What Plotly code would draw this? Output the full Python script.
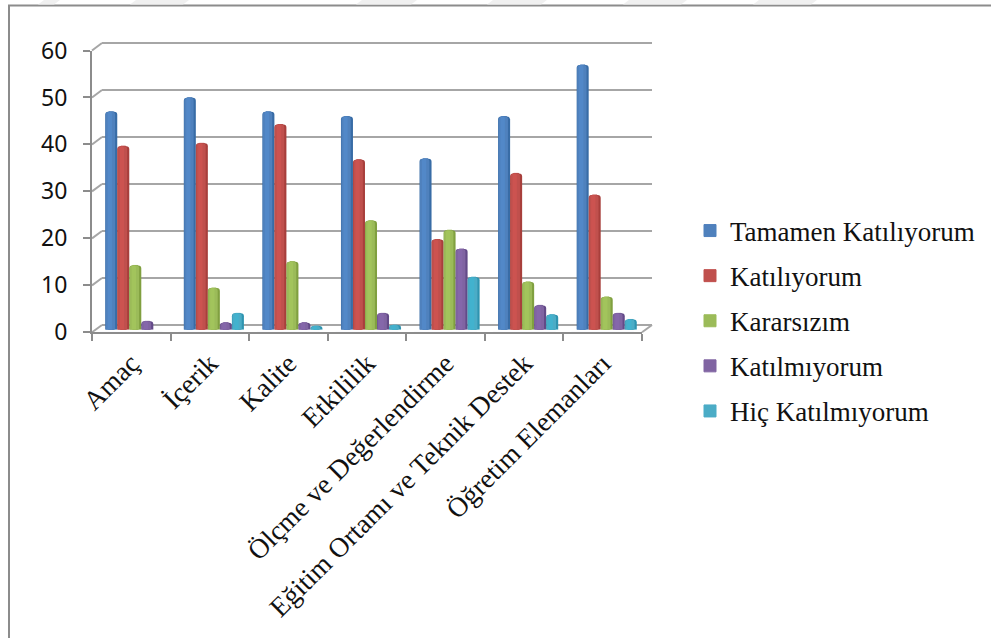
import plotly.graph_objects as go

W, H = 991, 638
categories = ["Amaç", "İçerik", "Kalite", "Etkililik", "Ölçme ve Değerlendirme",
              "Eğitim Ortamı ve Teknik Destek", "Öğretim Elemanları"]
series_names = ["Tamamen Katılıyorum", "Katılıyorum", "Kararsızım", "Katılmıyorum", "Hiç Katılmıyorum"]
tamamen = [46.4, 49.4, 46.4, 45.4, 36.4, 45.4, 56.4]
katiliyorum = [39.1, 39.7, 43.7, 36.2, 19.2, 33.3, 28.7]
kararsizim = [13.7, 8.9, 14.5, 23.2, 21.2, 10.2, 7]
katilmiyorum = [1.8, 1.5, 1.5, 3.5, 17.2, 5.2, 3.5]
hic = [None, 3.5, 0.8, 1, 11.2, 3.2, 2.2]
series_values = [tamamen, katiliyorum, kararsizim, katilmiyorum, hic]
colors = ["#4F81BD", "#C0504D", "#9BBB59", "#8064A2", "#4BACC6"]
darks = ["#386CA6", "#A83F3C", "#80A040", "#634A88", "#2E94B0"]
lights = ["#5288C8", "#CC5350", "#A2C45C", "#8567AA", "#42B2CE"]
y_ticks = [0, 10, 20, 30, 40, 50, 60]

GRID = "#A6A6A6"
AXIS = "#8C8C8C"

def px(x): return x / W
def py(y): return 1 - y / H

fig = go.Figure()

# invisible trace that makes the front axes draw
fig.add_trace(go.Bar(x=categories, y=[0] * len(categories), xaxis="x", yaxis="y", showlegend=False,
                     hoverinfo="skip", marker=dict(color="rgba(0,0,0,0)")))
# back wall gridlines
fig.add_trace(go.Scatter(x=[None], y=[None], xaxis="x2", yaxis="y2", showlegend=False))

slot = 0.153
for i, (name, vals) in enumerate(zip(series_names, series_values)):
    off = (i - 2.5) * slot
    fig.add_trace(go.Bar(x=categories, y=vals, name=name, width=slot * 0.4, offset=off + slot * 0.3,
                         xaxis="x3", yaxis="y3", legendgroup=name,
                         marker=dict(color=colors[i], line=dict(width=1, color=colors[i]))))
    fig.add_trace(go.Bar(x=categories, y=vals, width=slot, offset=off,
                         xaxis="x3", yaxis="y3", showlegend=False, hoverinfo="skip",
                         marker=dict(color=darks[i], line=dict(width=0), cornerradius=3)))
    fig.add_trace(go.Bar(x=categories, y=vals, width=slot * 0.78, offset=off + slot * 0.04,
                         xaxis="x3", yaxis="y3", showlegend=False, hoverinfo="skip",
                         marker=dict(color=colors[i], line=dict(width=0), cornerradius=3)))
    fig.add_trace(go.Bar(x=categories, y=vals, width=slot * 0.36, offset=off + slot * 0.2,
                         xaxis="x3", yaxis="y3", showlegend=False, hoverinfo="skip",
                         marker=dict(color=lights[i], line=dict(width=0), cornerradius=3)))

shapes = []
FX0, FX1, FY0, FY60 = 92, 642, 332.3, 50.5
BX0, BX1, BY0, BY60 = 102, 652, 325, 43
UNIT = (BY0 - BY60) / 60
for t in y_ticks:
    fy = FY0 + (FY60 - FY0) * t / 60
    by = BY0 + (BY60 - BY0) * t / 60
    shapes.append(dict(type="line", xref="paper", yref="paper", x0=px(FX0), x1=px(BX0),
                       y0=py(fy), y1=py(by), line=dict(color=GRID, width=2), layer="below"))
shapes.append(dict(type="line", xref="paper", yref="paper", x0=px(FX1), x1=px(BX1),
                   y0=py(FY0), y1=py(BY0), line=dict(color=GRID, width=2), layer="below"))
# outer frame
shapes.append(dict(type="rect", xref="paper", yref="paper", x0=px(9), x1=px(1000), y0=py(660), y1=py(5.5),
                   line=dict(color="#8C8C8C", width=2), layer="below"))
# pale watermark ribbons cut by the frame's top edge
for a, b in [(38, 54), (130, 183), (356, 411), (487, 541), (623, 681), (753, 811)]:
    path = f"M {px(a)},{py(4.5)} L {px(b)},{py(4.5)} L {px(b + 6)},{py(0)} L {px(a + 6)},{py(0)} Z"
    shapes.append(dict(type="path", xref="paper", yref="paper", path=path,
                       line=dict(width=0), fillcolor="#F0F0F0", layer="below"))

fig.update_layout(
    width=W, height=H, autosize=False,
    margin=dict(l=0, r=0, t=0, b=0, autoexpand=False),
    paper_bgcolor="white", plot_bgcolor="rgba(0,0,0,0)",
    barmode="overlay", shapes=shapes,
    font=dict(family="Liberation Serif", color="#111111"),
    xaxis=dict(domain=[px(FX0), px(FX1)], type="category", categoryorder="array", categoryarray=categories,
               range=[-0.5, 6.5], tickmode="array", tickvals=categories, ticktext=categories, tickson="boundaries",
               tickangle=-45, ticks="outside", ticklen=7, tickwidth=2, tickcolor=AXIS, showline=True,
               linecolor=AXIS, linewidth=2, showgrid=False, anchor="y", automargin=False, ticklabelstandoff=2,
               tickfont=dict(family="Liberation Serif", size=27.5, color="#111111")),
    yaxis=dict(domain=[py(FY0), py(FY60)], range=[0, 60], tickvals=y_ticks, ticks="outside", ticklen=7,
               tickwidth=2, tickcolor=AXIS, showline=True, linecolor=AXIS, linewidth=2, showgrid=False,
               anchor="x", zeroline=False, automargin=False, ticklabelstandoff=11,
               tickfont=dict(family="Noto Sans", size=23, color="#111111")),
    xaxis3=dict(domain=[px(FX0 + 4), px(FX1 + 4)], type="category", categoryorder="array", categoryarray=categories,
                range=[-0.5, 6.5], visible=False, anchor="y3", automargin=False),
    yaxis3=dict(domain=[py(FY0 - 2.5), py(FY60 - 2.5)], range=[0, 60], visible=False, anchor="x3",
                automargin=False),
    xaxis2=dict(domain=[px(BX0), px(BX1)], range=[0, 1], showticklabels=False, ticks="", showgrid=False,
                zeroline=False, anchor="y2", automargin=False),
    yaxis2=dict(domain=[py(BY0 + 2 * UNIT), py(BY60 - 2 * UNIT)], range=[-2, 62], tickvals=y_ticks,
                showticklabels=False, ticks="", showgrid=True, gridcolor=GRID, gridwidth=2, zeroline=False,
                anchor="x2", automargin=False),
    legend=dict(x=px(690), y=py(206.5), xanchor="left", yanchor="top", tracegroupgap=7, itemwidth=30,
                bgcolor="rgba(0,0,0,0)", traceorder="grouped",
                font=dict(family="Liberation Serif", size=27, color="#111111")),
)
fig.write_html("out.html", config=dict(displayModeBar=False),
               post_script="document.body.style.margin='0';document.body.style.overflow='hidden';")
